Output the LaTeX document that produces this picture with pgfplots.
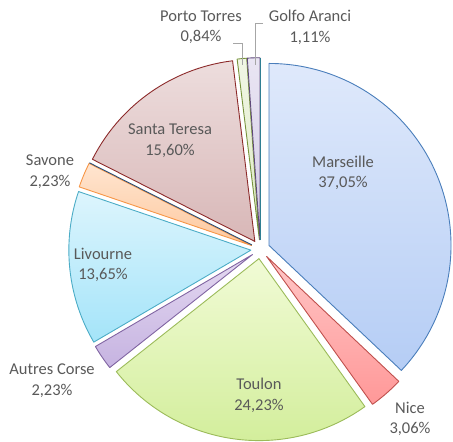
\documentclass[border=0pt]{standalone}
\usepackage{pgfplots}
\pgfplotsset{compat=1.18}
\usepackage{fontspec}
\setmainfont{Carlito}
\definecolor{txt}{HTML}{595959}
\definecolor{lead}{HTML}{A6A6A6}
\definecolor{maT}{HTML}{DFE9FB}\definecolor{maB}{HTML}{B5CDF5}\definecolor{maD}{HTML}{4A7EBB}
\definecolor{niT}{HTML}{FFC6C6}\definecolor{niB}{HTML}{FF9898}\definecolor{niD}{HTML}{C0504D}
\definecolor{toT}{HTML}{F1FBD6}\definecolor{toB}{HTML}{D3EE9C}\definecolor{toD}{HTML}{9BBB59}
\definecolor{acT}{HTML}{E4D9F1}\definecolor{acB}{HTML}{C6B3E1}\definecolor{acD}{HTML}{8064A2}
\definecolor{liT}{HTML}{DDF5FD}\definecolor{liB}{HTML}{A4E4F9}\definecolor{liD}{HTML}{4BACC6}
\definecolor{saT}{HTML}{FFE5D0}\definecolor{saB}{HTML}{FDC89E}\definecolor{saD}{HTML}{F79646}
\definecolor{stT}{HTML}{EDDDDD}\definecolor{stB}{HTML}{D8B7B7}\definecolor{stD}{HTML}{8C2A2A}
\definecolor{ptT}{HTML}{F1F6E5}\definecolor{ptB}{HTML}{DDE9C3}\definecolor{ptD}{HTML}{77933C}
\definecolor{gaT}{HTML}{E9E5F3}\definecolor{gaB}{HTML}{D3CBE5}\definecolor{gaD}{HTML}{5F497A}
\definecolor{z1D}{HTML}{2C4D75}\definecolor{z2D}{HTML}{2F7F93}
% #1 cumulative start (%), #2 share (%), #3 top colour, #4 bottom colour, #5 border
\newcommand{\slice}[5]{%
  \addplot[draw=#5, line width=0.9pt, top color=#3, bottom color=#4,
           domain=0:1, samples=90, variable=\t, line join=round]
  ({260.3+9.5*cos(90-3.6*(#1+#2/2))+182*cos(90-3.6*(#1+#2*\t))},
   {191.8+9.5*sin(90-3.6*(#1+#2/2))+182*sin(90-3.6*(#1+#2*\t))})
  -- (axis cs:{260.3+9.5*cos(90-3.6*(#1+#2/2))},{191.8+9.5*sin(90-3.6*(#1+#2/2))}) -- cycle;
}
% zero-share slice: only its border line shows. #1 cumulative position (%), #2 colour
\newcommand{\zslice}[2]{%
  \addplot[draw=#2, line width=0.9pt, domain=0:1, samples=2, variable=\t]
  ({260.3+(9.5+182*\t)*cos(90-3.6*#1)},{191.8+(9.5+182*\t)*sin(90-3.6*#1)});
}
\begin{document}
\begin{tikzpicture}
\begin{axis}[scale only axis, width=453bp, height=441bp,
  xmin=0, xmax=453, ymin=0, ymax=441, hide axis, clip=false]
\path (rel axis cs:0,0) rectangle (rel axis cs:1,1);
% cumulative start, share
\slice{0}{37.05}{maT}{maB}{maD}      % Marseille
\slice{37.05}{3.06}{niT}{niB}{niD}   % Nice
\slice{40.11}{24.23}{toT}{toB}{toD}  % Toulon
\slice{64.34}{2.23}{acT}{acB}{acD}   % Autres Corse
\slice{66.57}{13.65}{liT}{liB}{liD}  % Livourne
\slice{80.22}{2.23}{saT}{saB}{saD}   % Savone
\zslice{82.45}{z1D}                  % 0 %
\slice{82.45}{15.60}{stT}{stB}{stD}  % Santa Teresa
\slice{98.05}{0.84}{ptT}{ptB}{ptD}   % Porto Torres
\slice{98.89}{1.11}{gaT}{gaB}{gaD}   % Golfo Aranci
\zslice{100}{z2D}                    % 0 %
\draw[lead, line width=0.8pt] (axis cs:233,398) -- (axis cs:242,398) -- (axis cs:242,376);
\draw[lead, line width=0.8pt] (axis cs:263,418) -- (axis cs:255,418) -- (axis cs:255,376);
\begin{scope}[every node/.style={align=center, text=txt, font=\fontsize{16.5bp}{20.5bp}\selectfont, inner sep=0pt}]
\node at (axis cs:343,268) {Marseille\\37,05\%};
\node at (axis cs:410,22) {Nice\\3,06\%};
\node at (axis cs:259,45.5) {Toulon\\24,23\%};
\node at (axis cs:52,60.5) {Autres Corse\\2,23\%};
\node at (axis cs:103,176) {Livourne\\13,65\%};
\node at (axis cs:50,269.5) {Savone\\2,23\%};
\node at (axis cs:170,300.5) {Santa Teresa\\15,60\%};
\node at (axis cs:201,413.5) {Porto Torres\\0,84\%};
\node at (axis cs:310,413.5) {Golfo Aranci\\1,11\%};
\end{scope}
\end{axis}
\end{tikzpicture}
\end{document}
